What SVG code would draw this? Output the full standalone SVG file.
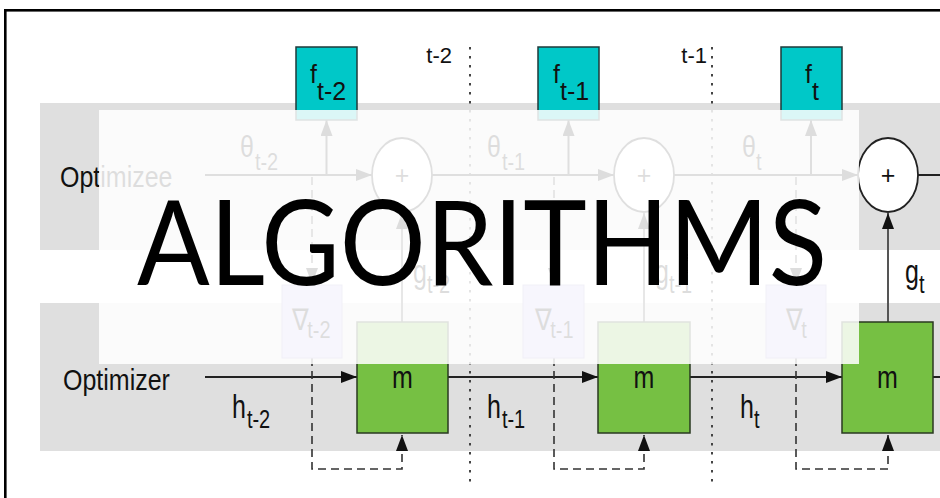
<svg xmlns="http://www.w3.org/2000/svg" width="940" height="498" viewBox="0 0 940 498">
  <defs>
    <style>
      .band { fill: #dfdfdf; }
      .fbox { fill: #00c8c8; stroke: #1e3a3a; stroke-width: 1.5; }
      .mbox { fill: #76c043; stroke: #2a3a20; stroke-width: 1.5; }
      .gbox { fill: #c4bcf0; stroke: #9a94c8; stroke-width: 1; }
      .sum { fill: #ffffff; stroke: #222; stroke-width: 1.8; }
      .lb { font-family: "Liberation Sans", Arial, sans-serif; font-size: 25px; fill: #111; }
      .sb { font-size: 20px; }
      .sm { font-family: "Liberation Sans", Arial, sans-serif; font-size: 22px; fill: #111; }
      .flow { fill: none; stroke: #222; stroke-width: 2; }
      .grad { fill: none; stroke: #555; stroke-width: 2; }
      .dash { fill: none; stroke: #333; stroke-width: 1.6; stroke-dasharray: 8 5; }
      .dot { fill: none; stroke: #444; stroke-width: 2; stroke-dasharray: 2.5 6.5; }
      .title { font-family: Lato, "Open Sans", "Liberation Sans", sans-serif; font-size: 118px; fill: #000; }
    </style>
    <marker id="arr" viewBox="0 0 16 12" refX="16" refY="6" markerWidth="17" markerHeight="12" markerUnits="userSpaceOnUse" orient="auto">
      <path d="M0,0 L16,6 L0,12 z" fill="#111"/>
    </marker>
  </defs>

  <rect width="940" height="498" fill="#ffffff"/>
  <!-- outer frame -->
  <rect x="5.3" y="10.3" width="960" height="520" fill="none" stroke="#000" stroke-width="2.6"/>

  <!-- row bands -->
  <g id="band-optimizee">
    <rect class="band" x="40" y="103" width="920" height="147"/>
    <text class="lb" transform="translate(60,187) scale(1,1.15)" font-size="29">Optimizee</text>
  </g>
  <g id="band-optimizer">
    <rect class="band" x="40" y="303" width="920" height="148"/>
    <text class="lb" transform="translate(63,390) scale(1,1.15)" font-size="29">Optimizer</text>
  </g>

  <!-- time step separators -->
  <g id="separators">
    <line class="dot" x1="470" y1="47" x2="470" y2="484"/>
    <line class="dot" x1="712" y1="47" x2="712" y2="484"/>
    <text class="sm" x="452" y="63" text-anchor="end">t-2</text>
    <text class="sm" x="707" y="63" text-anchor="end">t-1</text>
    <text class="sm" x="947" y="63" text-anchor="end">t</text>
  </g>

  <!-- connectors -->
  <g id="connectors">
    <!-- optimizee parameter flow -->
    <line class="flow" x1="205" y1="175" x2="372" y2="175" marker-end="url(#arr)"/>
    <line class="flow" x1="432" y1="175" x2="614" y2="175" marker-end="url(#arr)"/>
    <line class="flow" x1="674" y1="175" x2="858" y2="175" marker-end="url(#arr)"/>
    <line class="flow" x1="918" y1="175" x2="945" y2="175"/>
    <!-- parameters to loss -->
    <line class="flow" x1="326.5" y1="175" x2="326.5" y2="120" marker-end="url(#arr)"/>
    <line class="flow" x1="568.5" y1="175" x2="568.5" y2="120" marker-end="url(#arr)"/>
    <line class="flow" x1="811" y1="175" x2="811" y2="120" marker-end="url(#arr)"/>
    <!-- updates g -->
    <line class="grad" x1="402" y1="322" x2="402" y2="213" marker-end="url(#arr)"/>
    <line class="grad" x1="644" y1="322" x2="644" y2="213" marker-end="url(#arr)"/>
    <line class="grad" x1="888" y1="322" x2="888" y2="213" marker-end="url(#arr)"/>
    <!-- optimizer hidden state flow -->
    <line class="flow" x1="205" y1="377" x2="357" y2="377" marker-end="url(#arr)"/>
    <line class="flow" x1="448" y1="377" x2="598" y2="377" marker-end="url(#arr)"/>
    <line class="flow" x1="690" y1="377" x2="842" y2="377" marker-end="url(#arr)"/>
    <line class="flow" x1="933" y1="377" x2="945" y2="377"/>
    <!-- gradient paths -->
    <line class="dash" x1="312" y1="177" x2="312" y2="284" marker-end="url(#arr)"/>
    <line class="dash" x1="554" y1="177" x2="554" y2="284" marker-end="url(#arr)"/>
    <line class="dash" x1="796" y1="177" x2="796" y2="284" marker-end="url(#arr)"/>
    <path class="dash" d="M312,358 V469 H402 V435" marker-end="url(#arr)"/>
    <path class="dash" d="M554,358 V469 H644 V435" marker-end="url(#arr)"/>
    <path class="dash" d="M796,358 V469 H888 V435" marker-end="url(#arr)"/>
  </g>

  <!-- flow labels -->
  <g id="labels">
    <text class="lb" transform="translate(240,157) scale(1,1.2)">θ<tspan class="sb" dx="1" dy="11">t-2</tspan></text>
    <text class="lb" transform="translate(487,157) scale(1,1.2)">θ<tspan class="sb" dx="1" dy="11">t-1</tspan></text>
    <text class="lb" transform="translate(742,157) scale(1,1.2)">θ<tspan class="sb" dx="0" dy="11">t</tspan></text>
    <text class="lb" transform="translate(413,283) scale(1,1.3)">g<tspan class="sb" dx="0" dy="8">t-2</tspan></text>
    <text class="lb" transform="translate(655,283) scale(1,1.3)">g<tspan class="sb" dx="0" dy="8">t-1</tspan></text>
    <text class="lb" transform="translate(905,283) scale(1,1.3)">g<tspan class="sb" dx="0" dy="8">t</tspan></text>
    <text class="lb" transform="translate(232,418) scale(1,1.3)">h<tspan class="sb" dx="1" dy="8">t-2</tspan></text>
    <text class="lb" transform="translate(487,418) scale(1,1.3)">h<tspan class="sb" dx="1" dy="8">t-1</tspan></text>
    <text class="lb" transform="translate(740,418) scale(1,1.3)">h<tspan class="sb" dx="0" dy="8">t</tspan></text>
  </g>

  <!-- loss nodes -->
  <g id="f-t-2">
    <rect class="fbox" x="296" y="47" width="61" height="73"/>
    <text class="lb" font-size="20"><tspan x="310" y="83">f</tspan><tspan x="317" y="100">t-2</tspan></text>
  </g>
  <g id="f-t-1">
    <rect class="fbox" x="538" y="47" width="61" height="73"/>
    <text class="lb" font-size="20"><tspan x="553" y="83">f</tspan><tspan x="560" y="100">t-1</tspan></text>
  </g>
  <g id="f-t">
    <rect class="fbox" x="781" y="47" width="61" height="73"/>
    <text class="lb" font-size="20"><tspan x="805" y="83">f</tspan><tspan x="812" y="100">t</tspan></text>
  </g>

  <!-- summation nodes -->
  <g id="sum-t-2">
    <ellipse class="sum" cx="402" cy="175" rx="30" ry="37"/>
    <text class="lb" x="402" y="184" text-anchor="middle" font-size="24">+</text>
  </g>
  <g id="sum-t-1">
    <ellipse class="sum" cx="644" cy="175" rx="30" ry="37"/>
    <text class="lb" x="644" y="184" text-anchor="middle" font-size="24">+</text>
  </g>
  <g id="sum-t">
    <ellipse class="sum" cx="888" cy="175" rx="30" ry="37"/>
    <text class="lb" x="888" y="184" text-anchor="middle" font-size="24">+</text>
  </g>

  <!-- gradient nodes -->
  <g id="grad-t-2">
    <rect class="gbox" x="282" y="285" width="60" height="73"/>
    <text class="lb" transform="translate(292,330) scale(1,1.2)">∇<tspan class="sb" dx="-2" dy="7">t-2</tspan></text>
  </g>
  <g id="grad-t-1">
    <rect class="gbox" x="523" y="285" width="61" height="73"/>
    <text class="lb" transform="translate(535,330) scale(1,1.2)">∇<tspan class="sb" dx="-2" dy="7">t-1</tspan></text>
  </g>
  <g id="grad-t">
    <rect class="gbox" x="766" y="285" width="60" height="73"/>
    <text class="lb" transform="translate(786,330) scale(1,1.2)">∇<tspan class="sb" dx="-2" dy="7">t</tspan></text>
  </g>

  <!-- optimizer cells -->
  <g id="m-t-2">
    <rect class="mbox" x="357" y="322" width="91" height="111"/>
    <text class="lb" transform="translate(402.5,388) scale(1,1.25)" text-anchor="middle" font-size="27">m</text>
  </g>
  <g id="m-t-1">
    <rect class="mbox" x="598" y="322" width="92" height="111"/>
    <text class="lb" transform="translate(644,388) scale(1,1.25)" text-anchor="middle" font-size="27">m</text>
  </g>
  <g id="m-t">
    <rect class="mbox" x="842" y="322" width="91" height="111"/>
    <text class="lb" transform="translate(887.5,388) scale(1,1.25)" text-anchor="middle" font-size="27">m</text>
  </g>

  <!-- title panel -->
  <g id="title">
    <rect x="99" y="110" width="760" height="254" fill="#ffffff" fill-opacity="0.86"/>
    <text class="title" x="137" y="285" textLength="690" lengthAdjust="spacingAndGlyphs">ALGORITHMS</text>
  </g>
</svg>
